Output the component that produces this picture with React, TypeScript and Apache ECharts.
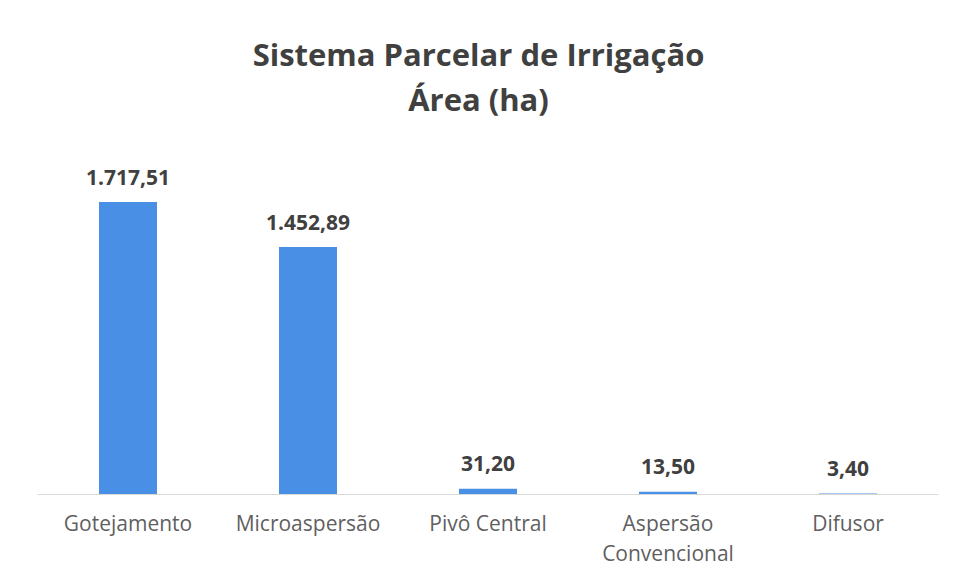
import React, { useEffect, useRef } from "react";
import * as echarts from "echarts";

const categories = ["Gotejamento", "Microaspersão", "Pivô Central", "Aspersão\nConvencional", "Difusor"];
const areaHa = [1717.51, 1452.89, 31.2, 13.5, 3.4];
const titleLines = ["Sistema Parcelar de Irrigação", "Área (ha)"];

function fmtBR(v: number): string {
  const [i, d] = v.toFixed(2).split(".");
  return i.replace(/\B(?=(\d{3})+(?!\d))/g, ".") + "," + d;
}

export default function App() {
  const ref = useRef<HTMLDivElement>(null);
  useEffect(() => {
    if (!ref.current) return;
    const chart = echarts.init(ref.current, null, { renderer: "svg" });
    chart.setOption({
      animation: false,
      backgroundColor: "#ffffff",
      title: {
        text: titleLines.join("\n"),
        left: "center",
        top: 26,
        textStyle: {
          fontFamily: "Open Sans",
          fontWeight: "bold",
          fontSize: 31,
          lineHeight: 45,
          color: "#404040",
        },
      },
      grid: { left: 38, right: 19, top: 154, bottom: 88, containLabel: false },
      xAxis: {
        type: "category",
        data: categories,
        axisLine: { lineStyle: { color: "#d9d9d9", width: 1 } },
        axisTick: { show: false },
        axisLabel: {
          interval: 0,
          hideOverlap: false,
          color: "#5f5f5f",
          fontFamily: "Open Sans",
          fontSize: 21,
          lineHeight: 30,
          margin: 14,
        },
      },
      yAxis: {
        type: "value",
        min: 0,
        max: 2000,
        show: false,
        splitLine: { show: false },
      },
      series: [
        {
          type: "bar",
          data: areaHa,
          barWidth: 58,
          itemStyle: { color: "#4a8fe6" },
          label: {
            show: true,
            position: "top",
            distance: 15,
            formatter: (p: any) => fmtBR(p.value),
            fontFamily: "Open Sans",
            fontWeight: "bold",
            fontSize: 21,
            color: "#404040",
          },
        },
      ],
    });
    return () => chart.dispose();
  }, []);
  return <div ref={ref} style={{ position: "fixed", left: 0, top: 0, width: 957, height: 582 }} />;
}
